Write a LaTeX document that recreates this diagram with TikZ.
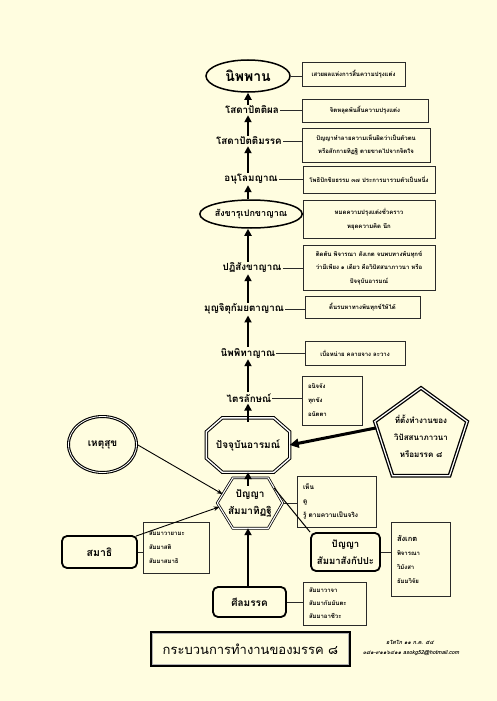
\documentclass[tikz,border=0pt]{standalone}
\usepackage{fontspec}
\setmainfont{Loma}[Script=Thai]
\usetikzlibrary{shapes.geometric,arrows.meta,calc}
\definecolor{paper}{HTML}{FFFDE0}
\definecolor{frame}{HTML}{2A2A2A}
\tikzset{
  stage/.style={font=\fontsize{9.8}{12}\selectfont\bfseries, inner sep=1pt},
  info/.style 2 args={draw=frame, line width=0.7pt, minimum width=#1, minimum height=#2, inner sep=0pt, font=\fontsize{6}{13.5}\selectfont\bfseries, align=center},
  infol/.style n args={3}{draw=frame, line width=0.7pt, minimum width=#1, minimum height=#2, inner xsep=6pt, inner ysep=0pt, text width=#3, font=\fontsize{6}{14}\selectfont\bfseries, align=left},
  up/.style={line width=2.4pt, -{Triangle[length=7pt,width=7pt]}},
  link/.style={line width=0.7pt, draw=frame},
  rbox/.style={draw, line width=1.8pt, rounded corners=5pt, inner sep=0pt},
  dbl/.style={line width=1pt, double=white, double distance=1.4pt},
  dbltwo/.style={line width=0.75pt, double=white, double distance=1.1pt},
  thin arrow/.style={line width=0.9pt, -{Stealth[length=6pt,width=4.5pt]}},
}
\begin{document}
\begin{tikzpicture}[x=1pt,y=-1pt]
\fill[paper] (0,0) rectangle (497,701);
\coordinate (ax) at (248,0);

% top ellipse
\node[ellipse, draw, line width=1.5pt, minimum width=84pt, minimum height=32pt, inner sep=0pt, font=\fontsize{14}{16}\selectfont\bfseries] (nib) at (248,76) {นิพพาน};
\node[info={103pt}{24pt}] (b1) at (353.5,74) {เสวยผลแห่งการสิ้นความปรุงแต่ง};
\draw[link] (nib.east) -- (nib.east -| b1.west);

\node[stage] (s1) at (252,110) {โสดาปัตติผล};
\node[info={126pt}{23pt}] (b2) at (365,110.5) {จิตหลุดพ้นสิ้นความปรุงแต่ง};
\draw[link] (s1.east) -- (s1.east -| b2.west);
\draw[up] (s1.north -| ax) -- (nib.south -| ax);

\node[stage] (s2) at (249,141) {โสดาปัตติมรรค};
\node[info={128pt}{34pt}] (b3) at (366,145) {ปัญญาทำลายความเห็นผิดว่าเป็นตัวตน\\หรือสักกายทิฏฐิ ตายขาดไปจากจิตใจ};
\draw[link] (s2.east) -- (s2.east -| b3.west);
\draw[up] (s2.north -| ax) -- (s1.south -| ax);

\node[stage] (s3) at (251,179) {อนุโลมญาณ};
\node[info={132pt}{27pt}] (b4) at (369,179.5) {โพธิปักขิยธรรม ๓๗ ประการมารวมตัวเป็นหนึ่ง};
\draw[link] (s3.east) -- (s3.east -| b4.west);
\draw[up] (s3.north -| ax) -- (s2.south -| ax);

\node[ellipse, draw, line width=1.5pt, minimum width=92pt, minimum height=28pt, inner sep=0pt, font=\fontsize{9}{11}\selectfont\bfseries] (s4) at (251,214) {สังขารุเปกขาญาณ};
\node[info={132pt}{38pt}] (b5) at (369,219) {หมดความปรุงแต่งชั่วคราว\\หยุดความคิด นึก};
\draw[link] (s4.east) -- (s4.east -| b5.west);
\draw[up] (s4.north -| ax) -- (s3.south -| ax);

\node[stage] (s5) at (252,268) {ปฏิสังขาญาณ};
\node[info={132pt}{45pt}] (b6) at (369,268) {ติดตัน พิจารณา สังเกต จนพบทางพ้นทุกข์\\ว่ามีเพียง ๑ เดียว คือวิปัสสนาภาวนา หรือ\\ปัจจุบันอารมณ์};
\draw[link] (s5.east) -- (s5.east -| b6.west);
\draw[up] (s5.north -| ax) -- (s4.south -| ax);

\node[stage] (s6) at (244,309) {มุญจิตุกัมยตาญาณ};
\node[info={115pt}{22pt}] (b7) at (362.5,307) {ดิ้นรนหาทางพ้นทุกข์ให้ได้};
\draw[link] (s6.east) -- (s6.east -| b7.west);
\draw[up] (s6.north -| ax) -- (s5.south -| ax);

\node[stage] (s7) at (248,353) {นิพพิทาญาณ};
\node[info={100pt}{24pt}] (b8) at (355,353) {เบื่อหน่าย คลายจาง ละวาง};
\draw[link] (s7.east) -- (s7.east -| b8.west);
\draw[up] (s7.north -| ax) -- (s6.south -| ax);

\node[stage] (s8) at (249,398) {ไตรลักษณ์};
\node[infol={60pt}{49pt}{48pt}] (b9) at (332,400.5) {อนิจจัง\\ทุกขัง\\อนัตตา};
\draw[link] (s8.east) -- (s8.east -| b9.west);
\draw[up] (s8.north -| ax) -- (s7.south -| ax);

% octagon
\node[minimum width=83pt, minimum height=54pt, inner sep=0pt, font=\fontsize{10}{12}\selectfont\bfseries] (oct) at (248,445) {ปัจจุบันอารมณ์};
\draw[dbl] ($(oct.north west)+(16,0)$) -- ($(oct.north east)+(-16,0)$) -- ($(oct.north east)+(0,14)$) -- ($(oct.south east)+(0,-14)$) -- ($(oct.south east)+(-16,0)$) -- ($(oct.south west)+(16,0)$) -- ($(oct.south west)+(0,-14)$) -- ($(oct.north west)+(0,14)$) -- cycle;
\draw[up] ($(oct.north -| ax)+(0,4)$) -- (s8.south -| ax);

% hexagon
\node[minimum width=65pt, minimum height=50pt, inner sep=0pt, align=center, font=\fontsize{10}{17}\selectfont\bfseries] (hex) at (250,503) {ปัญญา\\สัมมาทิฏฐิ};
\coordinate (hTL) at ($(hex.north west)+(15.5,0)$);
\coordinate (hTR) at ($(hex.north east)+(-14.5,0)$);
\coordinate (hBL) at ($(hex.south west)+(15.5,0)$);
\coordinate (hBR) at ($(hex.south east)+(-14.5,0)$);
\draw[dbltwo] (hex.west) -- (hTL) -- (hTR) -- (hex.east) -- (hBR) -- (hBL) -- cycle;
\draw[up] ($(hex.north -| ax)+(0,8)$) -- (oct.south -| ax);

% pentagon
\node[regular polygon, regular polygon sides=5, minimum size=97pt, inner sep=0pt, draw, line width=1.3pt, double=white, double distance=1.2pt, align=center, font=\fontsize{8}{17}\selectfont\bfseries] (pent) at (421,436.5) {ที่ตั้งทำงานของ\\วิปัสสนาภาวนา\\หรือมรรค ๘};
\draw[line width=3pt, -{Triangle[length=9pt,width=9pt]}] ($(pent.corner 2)!0.12!(pent.corner 3)$) -- (oct.east);

% cause circle
\node[ellipse, draw, line width=1.1pt, double=white, double distance=0.8pt, minimum width=68pt, minimum height=56pt, inner sep=0pt, font=\fontsize{10}{12}\selectfont\bfseries] (cause) at (102.5,444.5) {เหตุสุข};
\draw[thin arrow] (cause.east) -- ($(hex.west)!0.35!(hTL)$);

% hex right box
\node[infol={79pt}{51pt}{67pt}, font=\fontsize{6.5}{14}\selectfont\bfseries] (hexR) at (336.5,501.5) {เห็น\\ดู\\รู้ ตามความเป็นจริง};
\draw[link] (hex.east) -- (hex.east -| hexR.west);

% panya samma sankappa
\node[rbox, minimum width=69pt, minimum height=38pt, align=center, font=\fontsize{9.5}{17}\selectfont\bfseries] (pan2) at (345.5,552) {ปัญญา\\สัมมาสังกัปปะ};
\draw[line width=1pt] (pan2.north west) -- ($(hTR)!0.4!(hex.east)$);
\node[infol={59pt}{74pt}{47pt}] (pan2R) at (420.5,559) {{\fontsize{7.5}{14}\selectfont สังเกต}\\พิจารณา\\วิมังสา\\ธัมมวิจัย};
\draw[link] (pan2.east) -- (pan2.east -| pan2R.west);

% samadhi
\node[rbox, minimum width=75pt, minimum height=32pt, font=\fontsize{10.5}{13}\selectfont\bfseries] (sam) at (99.5,552) {สมาธิ};
\node[infol={66pt}{51pt}{54pt}] (samR) at (176,547.5) {สัมมาวายามะ\\สัมมาสติ\\สัมมาสมาธิ};
\draw[link] (sam.east) -- (sam.east -| samR.west);
\draw[thin arrow] ($(sam.north east)+(-2,1)$) -- ($(hex.west)!0.15!(hBL)$);

% sila
\node[rbox, minimum width=73pt, minimum height=30pt, font=\fontsize{10}{12}\selectfont\bfseries] (sila) at (249.5,602) {ศีลมรรค};
\node[infol={63pt}{43pt}{51pt}, font=\fontsize{6}{13}\selectfont\bfseries] (silaR) at (334.5,603.5) {สัมมาวาจา\\สัมมากัมมันตะ\\สัมมาอาชีวะ};
\draw[link] (sila.east) -- (sila.east -| silaR.west);
\draw[up] (sila.north -| ax) -- (hex.south -| ax);

% title
\node[draw, line width=2.2pt, minimum width=199pt, minimum height=34pt, inner sep=0pt, font=\fontsize{13}{15}\selectfont] (title) at (250.5,649) {กระบวนการทำงานของมรรค ๘};
\draw[gray!60, line width=0.8pt] ($(title.north west)+(2.5,2.5)$) rectangle ($(title.south east)+(-2.5,-2.5)$);

% author
\node[font=\fontsize{5.5}{7}\selectfont\bfseries\itshape, inner sep=0pt] (auth1) at (410,642) {อโศโก ๑๑ ก.ค. ๕๔};
\node[font=\fontsize{5.5}{7}\selectfont\bfseries\itshape, inner sep=0pt] (auth2) at (411,653) {๐๘๑-๙๑๑๖๔๑๑ asokg52@hotmail.com};
\end{tikzpicture}
\end{document}
